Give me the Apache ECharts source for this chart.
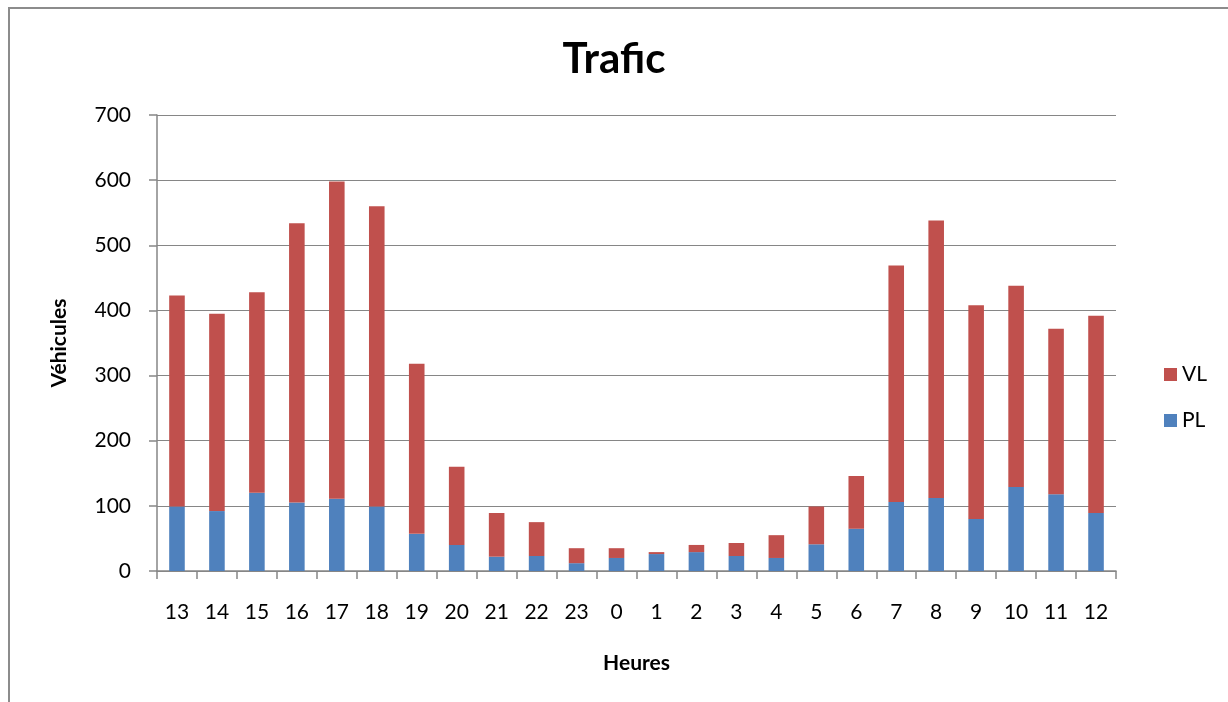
<!DOCTYPE html>
<html>
<head>
<meta charset="utf-8">
<script src="https://cdn.jsdelivr.net/npm/echarts@6/dist/echarts.min.js"></script>
<style>html,body{margin:0;padding:0;background:#fff}#c{width:1228px;height:702px}</style>
</head>
<body>
<div id="c"></div>
<script>
const categories = ['13','14','15','16','17','18','19','20','21','22','23','0','1','2','3','4','5','6','7','8','9','10','11','12'];
const plValues = [99, 92, 120, 105, 111, 99, 57, 40, 22, 23, 12, 20, 26, 29, 23, 20, 41, 65, 106, 112, 80, 129, 118, 89];
const vlValues = [324, 303, 308, 429, 487, 461, 261, 120, 67, 52, 23, 15, 3, 11, 20, 35, 58, 81, 363, 426, 328, 309, 254, 303];
const yTicks = { min: 0, max: 700, interval: 100 };

const font = 'Lato, "Open Sans", sans-serif';
const chart = echarts.init(document.getElementById('c'), null, {renderer: 'canvas'});
chart.setOption({
  animation: false,
  backgroundColor: '#fff',
  textStyle: { fontFamily: font },
  title: {
    text: 'Trafic', left: 'center', top: 33, itemGap: 0,
    textStyle: { fontFamily: font, fontSize: 42, fontWeight: 'bold', color: '#000' }
  },
  legend: {
    orient: 'vertical', left: 1159, top: 359,
    data: ['VL', 'PL'],
    itemWidth: 13, itemHeight: 13, itemGap: 25,
    icon: 'rect',
    textStyle: { fontFamily: font, fontSize: 21, color: '#000' }
  },
  grid: { left: 157, right: 112, top: 115, bottom: 131, containLabel: false },
  xAxis: {
    type: 'category', data: categories,
    name: 'Heures', nameLocation: 'middle', nameGap: 82,
    nameTextStyle: { fontFamily: font, fontSize: 21, fontWeight: 'bold', color: '#000' },
    axisLine: { lineStyle: { color: '#868686', width: 1.5 } },
    axisTick: { show: true, length: 8, lineStyle: { color: '#868686', width: 1.5 } },
    axisLabel: { fontFamily: font, fontSize: 21, color: '#000', margin: 31 }
  },
  yAxis: {
    type: 'value', min: yTicks.min, max: yTicks.max, interval: yTicks.interval,
    name: 'Véhicules', nameLocation: 'middle', nameGap: 87, nameRotate: 90,
    nameTextStyle: { fontFamily: font, fontSize: 21, fontWeight: 'bold', color: '#000' },
    axisLine: { show: true, lineStyle: { color: '#868686', width: 1.5 } },
    axisTick: { show: true, length: 8, lineStyle: { color: '#868686', width: 1.5 } },
    axisLabel: { fontFamily: font, fontSize: 21, color: '#000', margin: 26 },
    splitLine: { lineStyle: { color: '#868686', width: 1.2 } }
  },
  series: [
    { name: 'PL', type: 'bar', stack: 'total', data: plValues, barWidth: '39%',
      itemStyle: { color: '#4F81BD' } },
    { name: 'VL', type: 'bar', stack: 'total', data: vlValues, barWidth: '39%',
      itemStyle: { color: '#C0504D' } }
  ],
  graphic: [{
    type: 'polyline', silent: true,
    shape: { points: [[9, 702], [9, 8], [1228, 8]] },
    style: { stroke: '#8c8c8c', lineWidth: 2, fill: null }
  }]
});
</script>
</body>
</html>
